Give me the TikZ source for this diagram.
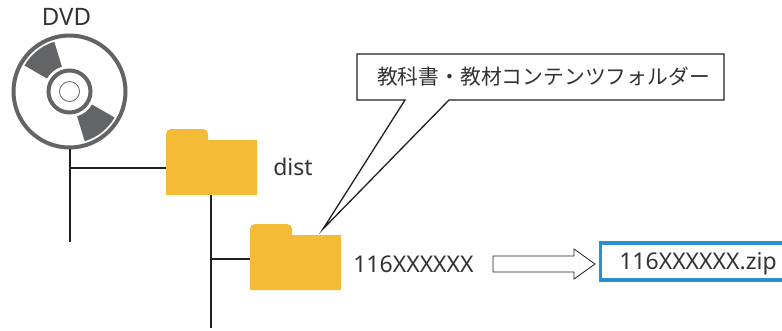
\documentclass[tikz,border=0pt]{standalone}
\usepackage{fontspec}
\setmainfont{Noto Sans CJK JP}
\newfontfamily\latinfont{Noto Sans}
\definecolor{folderc}{HTML}{F4BB36}
\definecolor{discc}{HTML}{636466}
\definecolor{inkc}{HTML}{231F20}
\definecolor{textc}{HTML}{333333}
\definecolor{bluec}{HTML}{2A8FCB}
\tikzset{
  treeline/.style={draw=inkc,line width=1.6pt},
  lbl/.style={text=textc,inner sep=0pt,font=\latinfont\fontsize{23}{26}\selectfont},
  folderbox/.style={fill=folderc,draw=none},
  sectorc/.style={fill=discc,draw=none}
}
\begin{document}
\begin{tikzpicture}[x=1pt,y=-1pt]
\useasboundingbox (0,0) rectangle (782,330);
% disc
\draw[discc,line width=4pt] (69.5,91.5) circle (56);
\draw[discc,line width=4pt] (69.5,91.5) circle (21);
\draw[discc,line width=0.8pt] (69.5,91.5) circle (10);
\begin{scope}[shift={(69.5,91.5)},y=1pt]
\fill[sectorc] (107:26) -- (107:52) arc (107:150:52) -- (150:26) arc (150:107:26) -- cycle;
\fill[sectorc] (287:26) -- (287:52) arc (287:330:52) -- (330:26) arc (330:287:26) -- cycle;
\end{scope}
\node[lbl,font=\latinfont\fontsize{24}{26}\selectfont] (dvd) at (66.5,17) {DVD};
\coordinate (discb) at (70,149);
\coordinate (discend) at (70,242);
\coordinate (j1) at (70,168);
% folders
\fill[folderbox] (166,195) -- (166,134) arc (180:270:5) -- (203,129) arc (-90:0:5) -- (208,140) -- (257,140) -- (257,195) -- cycle;
\fill[folderbox] (250,290) -- (250,229) arc (180:270:5) -- (287,224) arc (-90:0:5) -- (292,235) -- (341,235) -- (341,290) -- cycle;
\coordinate (f1l) at (166,168);
\coordinate (f1b) at (211,195);
\coordinate (f2l) at (250,259);
\coordinate (treeend) at (211,328);
\coordinate (j2) at (211,259);
\draw[treeline] (discb) -- (discend);
\draw[treeline] (j1) -- (f1l);
\draw[treeline] (f1b) -- (treeend);
\draw[treeline] (j2) -- (f2l);
% labels
\node[lbl] (dist) at (293,166.5) {dist};
\node[lbl] (code) at (413.5,264) {116XXXXXX};
% callout
\draw[inkc,line width=1.3pt,fill=white,line join=miter] (357,54) -- (724,54) -- (724,100) -- (449,100) -- (323,229) -- (405,100) -- (357,100) -- cycle;
\node[text=textc,inner sep=0pt,font=\fontsize{20.8}{24}\selectfont] (cap) at (543.5,77) {教科書・教材コンテンツフォルダー};
% block arrow
\draw[inkc,line width=0.8pt,fill=white] (493,256) -- (574,256) -- (574,249) -- (595,264) -- (574,279) -- (574,272) -- (493,272) -- cycle;
% zip box
\draw[bluec,line width=3.5pt] (600.5,243.2) -- (784,243.2) (784,280) -- (600.5,280);
\draw[bluec,line width=3.5pt] (600.5,241.45) -- (600.5,281.75);
\node[lbl] (zip) at (698,263.5) {116XXXXXX.zip};
\end{tikzpicture}
\end{document}
